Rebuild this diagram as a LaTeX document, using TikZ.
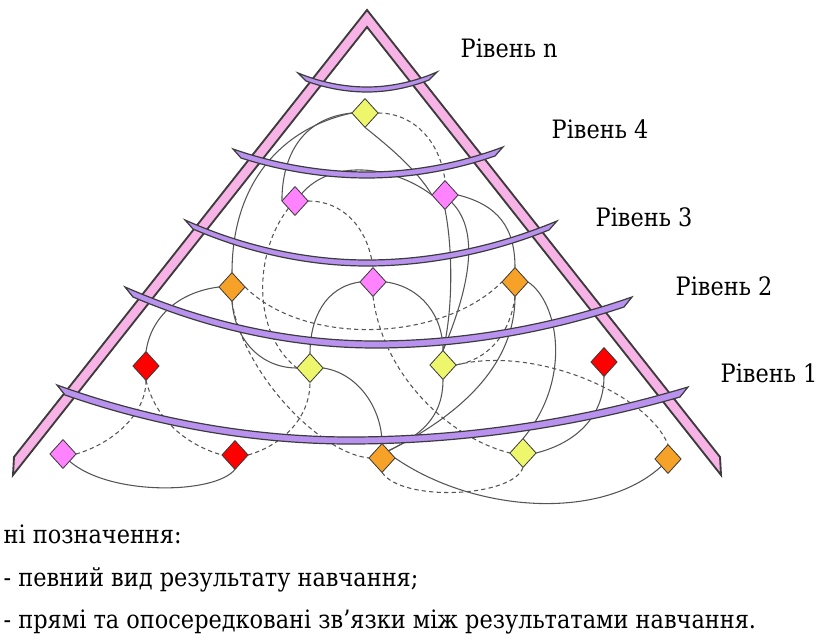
\documentclass[tikz,border=0pt]{standalone}
\usepackage{fontspec}
\setmainfont{DejaVu Serif}
\newfontfamily\lblfont[FakeStretch=0.885]{DejaVu Serif}
\usepackage{tikz}
\usetikzlibrary{shapes.geometric}
\definecolor{pyramid}{HTML}{F7B3E6}
\definecolor{band}{HTML}{B892EE}
\definecolor{edge}{HTML}{3C3C3C}
\definecolor{linkgray}{HTML}{555555}
\definecolor{resY}{HTML}{EEF76C}
\definecolor{resM}{HTML}{FF82FF}
\definecolor{resO}{HTML}{F6A128}
\definecolor{resR}{HTML}{FF0000}
% level band: left end, bend, right end, thickness
\newcommand{\levelband}[7]{\filldraw[fill=band,draw=edge,line width=0.9pt]
  (#1,#2) parabola bend (#3,#4) (#5,#6) -- ({#5-8},{#6+#7+3})
  parabola bend (#3,{#4+#7}) ({#1+8},{#2+#7+3}) -- cycle;}

\begin{document}
\begin{tikzpicture}[x=0.75pt,y=-0.75pt,
  res/.style={diamond,draw=edge,line width=0.6pt,inner sep=0pt,minimum width=19pt,minimum height=21pt},
  link/.style={draw=linkgray,line width=0.8pt},
  mlink/.style={link,dash pattern=on 3.2pt off 2.4pt},
  lvl/.style={anchor=base west,font=\lblfont\fontsize{19}{24}\selectfont},
  legend/.style={anchor=base west,font=\lblfont\fontsize{19}{24}\selectfont}]
  \useasboundingbox (0,0) rectangle (816,634);
  % pyramid
  \filldraw[fill=pyramid,draw=edge,line width=1.4pt]
    (14,457) -- (367,10) -- (720,457) -- (721,475) -- (367,27) -- (13,475) -- cycle;
  % learning results
  \node[res,fill=resY] (r1) at (365,113) {};
  \node[res,fill=resM] (r2) at (295,201) {};
  \node[res,fill=resM] (r3) at (445,195) {};
  \node[res,fill=resO] (r4) at (232,287) {};
  \node[res,fill=resM] (r5) at (373,282) {};
  \node[res,fill=resO] (r6) at (515,282) {};
  \node[res,fill=resR] (r7) at (146,366) {};
  \node[res,fill=resY] (r8) at (310,368) {};
  \node[res,fill=resY] (r9) at (443,365) {};
  \node[res,fill=resR] (r10) at (604,362) {};
  \node[res,fill=resM] (r11) at (63,454) {};
  \node[res,fill=resR] (r12) at (235,455) {};
  \node[res,fill=resO] (r13) at (382,458) {};
  \node[res,fill=resY] (r14) at (523,453) {};
  \node[res,fill=resO] (r15) at (668,459) {};
  % direct links
  \draw[link] (r1.west) .. controls +(-50,5) and +(0,-45) .. (r2.west);
  \draw[link] (r1.west) .. controls +(-70,15) and +(0,-90) .. (r4.north);
  \draw[link] (r1.south) .. controls +(25,20) and +(-15,-25) .. (r3.west);
  \draw[link] (r2.north east) .. controls +(30,-35) and +(-40,-30) .. (r3.west);
  \draw[link] (r3.south) .. controls +(8,40) and +(10,-40) .. (r9.north);
  \draw[link] (r3.south east) .. controls +(30,30) and +(25,-60) .. (r9.north);
  \draw[link] (r3.east) .. controls +(40,10) and +(0,-40) .. (r6.north);
  \draw[link] (r7.north) .. controls +(5,-35) and +(-40,5) .. (r4.west);
  \draw[link] (r4.south) .. controls +(3,40) and +(-35,0) .. (r8.west);
  \draw[link] (r5.west) .. controls +(-35,5) and +(0,-35) .. (r8.north);
  \draw[link] (r5.east) .. controls +(35,5) and +(0,-35) .. (r9.north);
  \draw[link] (r6.east) .. controls +(30,20) and +(50,-60) .. (r14.north);
  \draw[link] (r6.south) .. controls +(0,70) and +(70,-35) .. (r13.north east);
  \draw[link] (r10.south) .. controls +(0,40) and +(40,-10) .. (r14.east);
  \draw[link] (r8.east) .. controls +(35,5) and +(0,-35) .. (r13.north);
  \draw[link] (r9.south) .. controls +(0,40) and +(30,-15) .. (r13.north east);
  \draw[link] (r11.south east) .. controls +(40,35) and +(-20,25) .. (r12.south);
  \draw[link] (r13.east) .. controls +(80,55) and +(-60,55) .. (r15.south west);
  % mediated links
  \draw[mlink] (r1.east) .. controls +(35,0) and +(-5,-40) .. (r3.north);
  \draw[mlink] (r2.east) .. controls +(35,0) and +(-5,-40) .. (r5.north);
  \draw[mlink] (r2.south west) .. controls +(-35,45) and +(-45,-35) .. (r8.west);
  \draw[mlink] (r4.east) .. controls +(60,60) and +(-60,60) .. (r6.west);
  \draw[mlink] (r4.south) .. controls +(10,70) and +(-50,-5) .. (r13.west);
  \draw[mlink] (r5.south) .. controls +(10,80) and +(-60,-15) .. (r14.west);
  \draw[mlink] (r6.south) .. controls +(-5,40) and +(30,-5) .. (r9.east);
  \draw[mlink] (r9.east) .. controls +(80,-20) and +(-20,-50) .. (r15.north);
  \draw[mlink] (r7.south) .. controls +(0,35) and +(35,-10) .. (r11.east);
  \draw[mlink] (r7.south) .. controls +(10,40) and +(-35,-10) .. (r12.west);
  \draw[mlink] (r12.east) .. controls +(35,-10) and +(0,35) .. (r8.south);
  \draw[mlink] (r13.south) .. controls +(20,30) and +(-10,30) .. (r14.south);
  % levels
  \levelband{298}{73}{367}{87}{437}{72}{5}
  \levelband{233}{149}{367}{172}{503}{147}{6}
  \levelband{185}{220}{367}{260}{557}{221}{6}
  \levelband{125}{287}{375}{341}{632}{297}{7}
  \levelband{57}{385}{350}{437}{688}{387}{7}
  % redraw results over the bands
  \foreach \r/\c in {r1/resY,r2/resM,r3/resM,r4/resO,r5/resM,r6/resO,r7/resR,r8/resY,
      r9/resY,r10/resR,r11/resM,r12/resR,r13/resO,r14/resY,r15/resO}
    \filldraw[fill=\c,draw=edge,line width=0.6pt] (\r.north) -- (\r.east) -- (\r.south) -- (\r.west) -- cycle;
  \node[lvl] (ln) at (456,58) {Рівень n};
  \node[lvl] (l4) at (547,139) {Рівень 4};
  \node[lvl] (l3) at (591,227) {Рівень 3};
  \node[lvl] (l2) at (671,296) {Рівень 2};
  \node[lvl] (l1) at (716,382) {Рівень 1};
  \node[legend] (g1) at (-1,543) {ні позначення:};
  \node[legend] (g2) at (-1,586) {- певний вид результату навчання;};
  \node[legend] (g3) at (-1,628) {- прямі та опосередковані зв’язки між результатами навчання.};
\end{tikzpicture}
\end{document}
